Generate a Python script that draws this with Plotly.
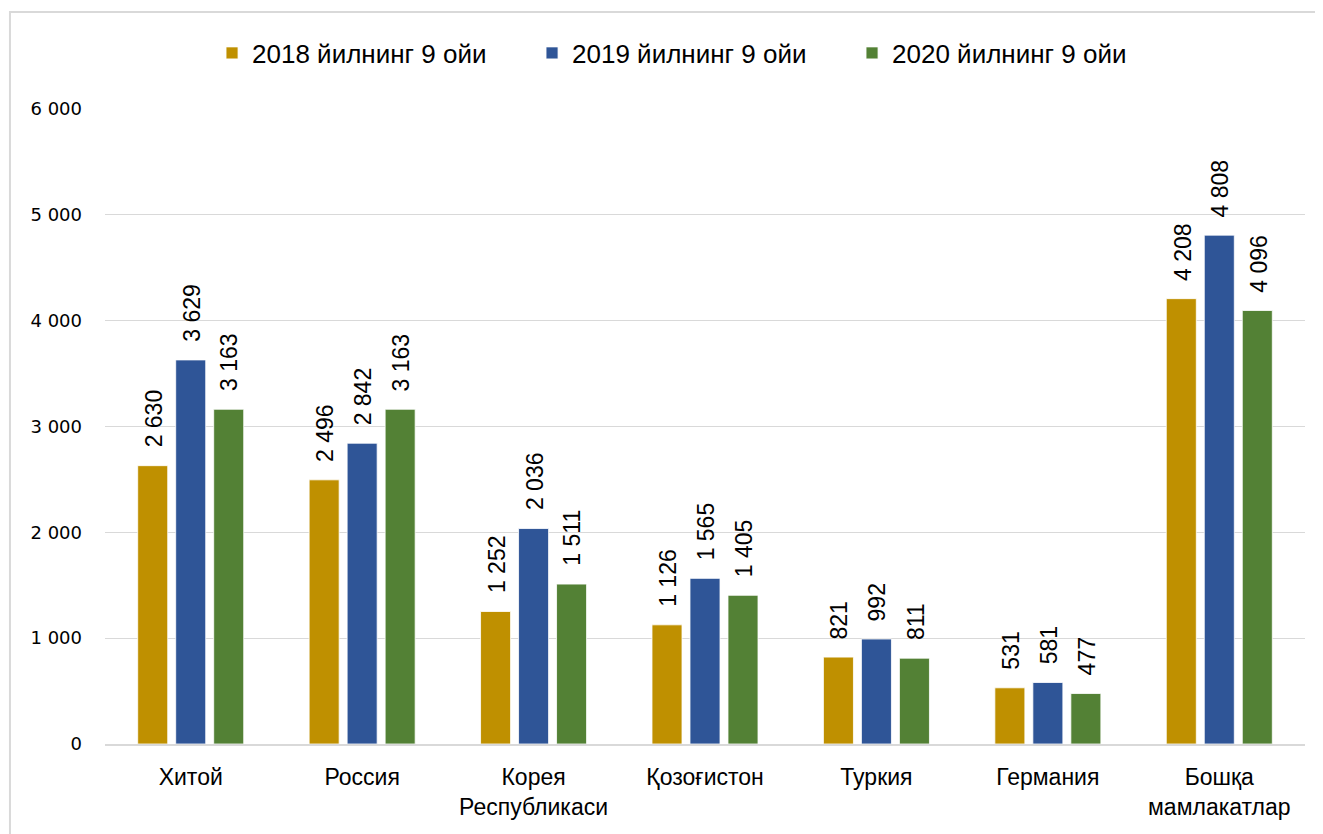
import plotly.graph_objects as go

categories = ["Хитой", "Россия", "Корея<br>Республикаси", "Қозоғистон", "Туркия", "Германия", "Бошқа<br>мамлакатлар"]
series_names = ["2018 йилнинг 9 ойи", "2019 йилнинг 9 ойи", "2020 йилнинг 9 ойи"]
values_2018 = [2630, 2496, 1252, 1126, 821, 531, 4208]
values_2019 = [3629, 2842, 2036, 1565, 992, 581, 4808]
values_2020 = [3163, 3163, 1511, 1405, 811, 477, 4096]
colors = ["#BF9000", "#2F5597", "#538135"]

all_series = [values_2018, values_2019, values_2020]

fig = go.Figure()
for name, vals, col in zip(series_names, all_series, colors):
    fig.add_trace(go.Bar(
        x=categories, y=vals, name=name,
        marker=dict(color=col, line=dict(color="white", width=0.8)),
    ))

def fmt(v):
    return f"{v:,}".replace(",", " ")

annotations = []
for i, vals in enumerate(all_series):
    for cat, v in zip(categories, vals):
        annotations.append(dict(
            x=cat, y=v, xref="x", yref="y", text=fmt(v), showarrow=False,
            textangle=-90, xanchor="center", yanchor="bottom",
            xshift=(i - 1) * 38 + 1, yshift=16,
            font=dict(family="Liberation Sans, Arial", size=23, color="black"),
        ))

fig.update_layout(
    width=1315, height=826,
    margin=dict(l=97, r=18, t=101, b=90),
    plot_bgcolor="white", paper_bgcolor="white",
    separators=", ",
    barmode="group", bargap=0.335, bargroupgap=0.21,
    legend=dict(orientation="h", x=0.0892, xanchor="left", y=1.0882, yanchor="middle",
                font=dict(family="Liberation Sans", size=26, color="black"),
                itemwidth=30, entrywidth=275, entrywidthmode="pixels"),
    showlegend=True,
    annotations=annotations,
    xaxis=dict(showline=True, linecolor="#D9D9D9", linewidth=1.5, ticks="", automargin=False,
               ticklabelstandoff=12,
               tickfont=dict(family="Liberation Sans", size=23, color="black")),
    yaxis=dict(range=[0, 6000], dtick=1000, tickformat=",.0f", showgrid=True, automargin=False,
               gridcolor="#D9D9D9", gridwidth=1, zeroline=False, ticks="",
               ticklabelstandoff=22,
               tickfont=dict(family="DejaVu Sans", size=18, color="black")),
    shapes=[dict(type="rect", xref="paper", yref="paper", x0=-0.0792, x1=1.2, y0=-0.3, y1=1.1528,
                 line=dict(color="#D9D9D9", width=2), layer="below")],
)

fig.write_html("out.html")
